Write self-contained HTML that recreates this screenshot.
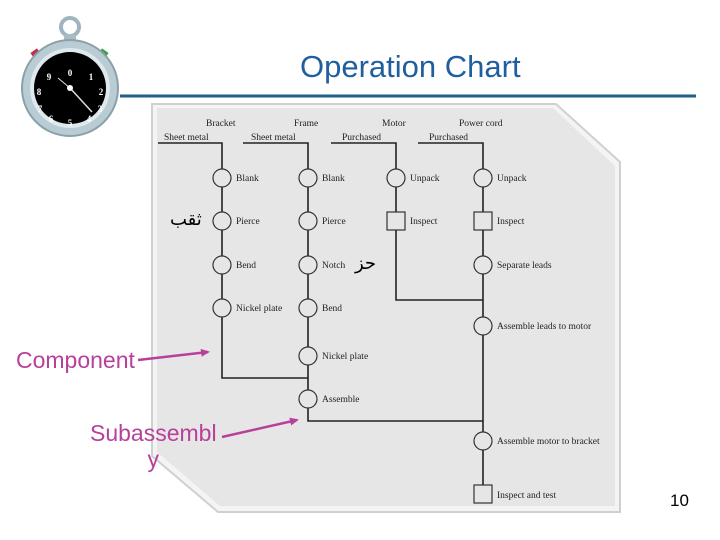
<!DOCTYPE html>
<html><head><meta charset="utf-8"><style>
body{margin:0;width:720px;height:540px;background:#fff;overflow:hidden;position:relative;font-family:"Liberation Sans",sans-serif}
.t{position:absolute;white-space:nowrap}
</style></head><body>
<svg width="720" height="540" style="position:absolute;left:0;top:0">
<defs><marker id="ah" markerWidth="9" markerHeight="8" refX="7" refY="4" orient="auto" markerUnits="userSpaceOnUse"><path d="M0,0 L9,4 L0,8 z" fill="#b8409a"/></marker></defs>
<line x1="120" y1="96" x2="696" y2="96" stroke="#1f5f8b" stroke-width="3"/>
<polygon points="152,104 556,104 620,162 620,512 218,512 152,456" fill="#f4f4f4" stroke="#d0d0d0" stroke-width="2"/>
<polygon points="157,108 553,108 615,166 615,506 220,506 157,452" fill="#e6e6e6"/>
<circle cx="70" cy="27" r="9" fill="none" stroke="#9fb4bf" stroke-width="4"/>
<rect x="64" y="34" width="12" height="12" rx="3" fill="#a8bcc6"/>
<rect x="32" y="50" width="8" height="8" fill="#c0304a" transform="rotate(-35 36 54)"/>
<rect x="99" y="50" width="8" height="8" fill="#3aa040" transform="rotate(35 103 54)"/>
<circle cx="70" cy="88" r="48" fill="#b9ccd4" stroke="#8aa0aa" stroke-width="2"/>
<circle cx="70" cy="88" r="40" fill="#dfe8ec"/>
<circle cx="70" cy="88" r="36" fill="#000"/>
<g fill="#fff" font-family="Liberation Serif" font-size="9" font-weight="bold" text-anchor="middle">
<text x="70" y="76">0</text><text x="91" y="80">1</text><text x="101" y="95">2</text><text x="100" y="112">3</text><text x="89" y="122">4</text><text x="70" y="126">5</text><text x="51" y="122">6</text><text x="40" y="112">7</text><text x="39" y="95">8</text><text x="49" y="80">9</text></g>
<line x1="70" y1="88" x2="92" y2="112" stroke="#ddd" stroke-width="1.5"/>
<line x1="70" y1="88" x2="58" y2="78" stroke="#ddd" stroke-width="1"/>
<circle cx="70" cy="88" r="3" fill="#fff"/>
<g stroke="#222" stroke-width="1.6" fill="none">
<polyline points="158,143 222,143 222,378 308,378"/>
<polyline points="243,143 308,143 308,421 483,421"/>
<polyline points="331,143 396,143 396,300 483,300"/>
<polyline points="418,143 483,143 483,494"/>
</g>
<g fill="#e6e6e6" stroke="#333" stroke-width="1.2">
<circle cx="222" cy="178" r="9"/><circle cx="222" cy="221" r="9"/><circle cx="222" cy="265" r="9"/><circle cx="222" cy="308" r="9"/>
<circle cx="308" cy="178" r="9"/><circle cx="308" cy="221" r="9"/><circle cx="308" cy="265" r="9"/><circle cx="308" cy="308" r="9"/><circle cx="308" cy="356" r="9"/><circle cx="308" cy="399" r="9"/>
<circle cx="396" cy="178" r="9"/><rect x="387" y="212" width="18" height="18"/>
<circle cx="483" cy="178" r="9"/><rect x="474" y="212" width="18" height="18"/><circle cx="483" cy="265" r="9"/><circle cx="483" cy="326" r="9"/><circle cx="483" cy="441" r="9"/><rect x="474" y="485" width="18" height="18"/>
</g>
<g font-family="Liberation Serif" font-size="9.5" fill="#222">
<text x="206" y="126">Bracket</text><text x="294" y="126">Frame</text><text x="382" y="126">Motor</text><text x="459" y="126">Power cord</text>
<text x="164" y="140">Sheet metal</text><text x="251" y="140">Sheet metal</text><text x="342" y="140">Purchased</text><text x="429" y="140">Purchased</text>
<text x="236" y="181">Blank</text><text x="236" y="224">Pierce</text><text x="236" y="268">Bend</text><text x="236" y="311">Nickel plate</text>
<text x="322" y="181">Blank</text><text x="322" y="224">Pierce</text><text x="322" y="268">Notch</text><text x="322" y="311">Bend</text><text x="322" y="359">Nickel plate</text><text x="322" y="402">Assemble</text>
<text x="410" y="181">Unpack</text><text x="410" y="224">Inspect</text>
<text x="497" y="181">Unpack</text><text x="497" y="224">Inspect</text><text x="497" y="268">Separate leads</text><text x="497" y="329">Assemble leads to motor</text><text x="497" y="444">Assemble motor to bracket</text><text x="497" y="498">Inspect and test</text>
</g>
<g stroke="#b8409a" stroke-width="2.5" marker-end="url(#ah)">
<line x1="138" y1="360" x2="208" y2="352"/>
<line x1="222" y1="437" x2="297" y2="420"/>
</g>
</svg>
<div class="t" style="left:300px;top:49px;font-size:31px;color:#1f5f9f">Operation Chart</div>
<div class="t" style="left:170px;top:209px;font-size:18px;font-family:'DejaVu Sans',sans-serif">ثقب</div>
<div class="t" style="left:355px;top:253px;font-size:18px;font-family:'DejaVu Sans',sans-serif">حز</div>
<div class="t" style="left:16px;top:347px;font-size:23px;color:#b8409a">Component</div>
<div class="t" style="left:90px;top:420px;font-size:23px;color:#b8409a;text-align:center;line-height:26px">Subassembl<br>y</div>
<div class="t" style="left:670px;top:491px;font-size:17px">10</div>
</body></html>
